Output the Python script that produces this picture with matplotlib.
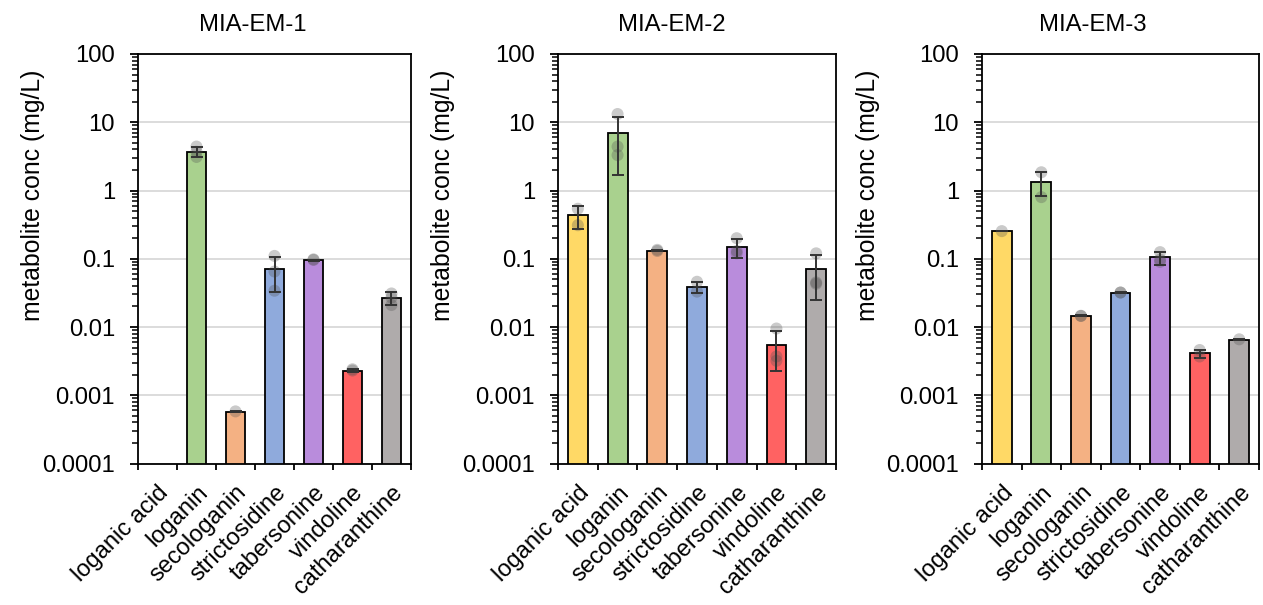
import matplotlib.pyplot as plt
import numpy as np

plt.rcParams['font.family'] = ['Liberation Sans', 'DejaVu Sans']

compounds = ["loganic acid", "loganin", "secologanin", "strictosidine",
             "tabersonine", "vindoline", "catharanthine"]
titles = ["MIA-EM-1", "MIA-EM-2", "MIA-EM-3"]
colors = ["#FFD966", "#A9D18E", "#F4B183", "#8FAADC", "#B98CDC", "#FF6262", "#AFABAB"]

# mean concentration (mg/L)
mean_em1 = [np.nan, 3.7, 0.00057, 0.070, 0.095, 0.0023, 0.0267]
mean_em2 = [0.435, 6.9, 0.132, 0.039, 0.151, 0.0055, 0.070]
mean_em3 = [0.254, 1.34, 0.0146, 0.032, 0.1045, 0.0041, 0.0065]

# standard deviation
sd_em1 = [np.nan, 0.62, 0.00001, 0.037, 0.002, 0.0001, 0.0055]
sd_em2 = [0.165, 5.2, 0.002, 0.007, 0.047, 0.0032, 0.045]
sd_em3 = [0.001, 0.52, 0.0002, 0.0006, 0.023, 0.00055, 0.0001]

# replicate measurements
reps_em1 = [[], [4.4, 3.7, 3.1], [0.00058], [0.11, 0.065, 0.034],
            [0.096, 0.098], [0.0023, 0.0024], [0.031, 0.027, 0.021]]
reps_em2 = [[0.54, 0.31], [13.2, 4.4, 3.3], [0.13, 0.135], [0.046, 0.033],
            [0.2, 0.13, 0.12], [0.0095, 0.0037, 0.0032], [0.12, 0.045, 0.043]]
reps_em3 = [[0.254], [1.85, 0.8], [0.0146, 0.0145], [0.032, 0.032],
            [0.125, 0.09, 0.097], [0.0046, 0.0037], [0.0066]]

means = [mean_em1, mean_em2, mean_em3]
sds = [sd_em1, sd_em2, sd_em3]
reps = [reps_em1, reps_em2, reps_em3]

fig = plt.figure(figsize=(12.63, 6.05), dpi=100)
lefts = [138, 558, 982]
rights = [411, 836, 1259]
title_x = [0.42, 0.41, 0.40]
ylab_x = [-0.34, -0.37, -0.37]
yticks = [0.0001, 0.001, 0.01, 0.1, 1, 10, 100]
ylabels = ["0.0001", "0.001", "0.01", "0.1", "1", "10", "100"]

for i in range(3):
    ax = fig.add_axes([lefts[i] / 1263, 1 - 463.5 / 605,
                       (rights[i] - lefts[i]) / 1263, (463.5 - 54) / 605])
    x = np.arange(len(compounds))
    ax.bar(x, means[i], width=0.5, color=colors, edgecolor="black",
           linewidth=1.3, zorder=2)
    for j, r in enumerate(reps[i]):
        if len(r):
            ax.scatter([j] * len(r), r, s=75, color="#505050", alpha=0.3,
                       edgecolors="none", zorder=3)
    ax.errorbar(x, means[i], yerr=sds[i], fmt="none", ecolor="#333333",
                elinewidth=1.4, capsize=4, capthick=1.4, zorder=4)

    ax.set_yscale("log")
    ax.set_ylim(0.0001, 100)
    ax.set_yticks(yticks)
    ax.set_yticklabels(ylabels)
    ax.set_xlim(-0.5, 6.5)
    ax.set_xticks(x)
    ax.set_xticklabels(compounds, rotation=45, ha="right",
                       rotation_mode="anchor")
    ax.set_xticks(np.arange(-0.5, 7, 1), minor=True)
    ax.tick_params(axis="x", which="major", length=0, pad=13, labelsize=17)
    ax.tick_params(axis="x", which="minor", length=4, width=1.3)
    ax.tick_params(axis="y", which="major", length=5.5, width=1.3,
                   labelsize=17.2, pad=11)
    ax.tick_params(axis="y", which="minor", length=4.5, width=1.1)
    ax.grid(axis="y", which="major", color="#d9d9d9", linewidth=1.3, zorder=0)
    ax.set_axisbelow(True)
    for s in ax.spines.values():
        s.set_linewidth(1.3)
    ax.set_ylabel("metabolite conc (mg/L)", fontsize=17.8)
    ax.yaxis.set_label_coords(ylab_x[i], 0.656)
    ax.set_title(titles[i], fontsize=17.2, pad=16.5, x=title_x[i])

fig.savefig("out.png", dpi=100)
